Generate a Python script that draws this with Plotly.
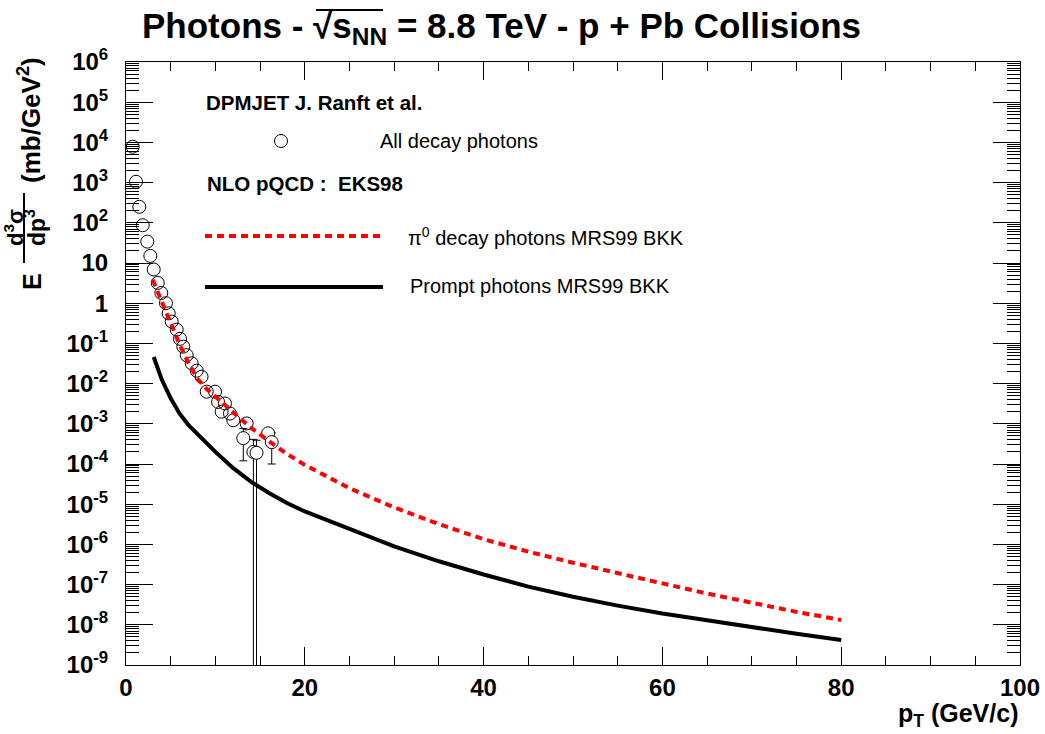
import plotly.graph_objects as go

# ---------------- data ----------------
# DPMJET "All decay photons" (open circles, no visible errors)
dpm_pt = [0.75, 1.12, 1.49, 1.87, 2.38, 2.72, 3.10, 3.55, 3.95, 4.47, 4.78, 5.11,
          5.67, 6.04, 6.41, 6.79, 7.35, 7.91, 8.45, 9.03, 9.96, 10.3, 11.07, 10.7,
          11.63, 12.0, 13.5]
dpm_val = [7800, 1050, 250, 87, 34, 15, 6.9, 3.2, 1.8, 1.0, 0.56, 0.35,
           0.22, 0.13, 0.083, 0.051, 0.032, 0.021, 0.0148, 0.0063, 0.0063, 0.0035, 0.0032, 0.0020,
           0.0018, 0.00123, 0.00102]
# DPMJET points with visible error bars
dpm_err_pt = [13.12, 14.25, 14.6, 15.9, 16.3]
dpm_err_val = [4.4e-4, 2.0e-4, 1.9e-4, 5.8e-4, 3.5e-4]
dpm_err = [3.2e-4, 2.1e-4, 2.0e-4, 1.7e-4, 2.5e-4]

# NLO pQCD EKS98 - pi0 decay photons MRS99 BKK
pi0_pt = [3, 4, 5, 6, 7, 8, 9, 10, 12, 14, 16, 18, 20, 25, 30, 35, 40, 45, 50, 55,
          60, 65, 70, 75, 80]
pi0_val = [3.8, 1.05, 0.30, 0.093, 0.032, 0.0132, 0.0074, 0.0047, 0.0019, 7.9e-4,
           3.7e-4, 1.78e-4, 9.5e-5, 2.5e-5, 8.3e-6, 3.2e-6, 1.35e-6, 6.6e-7, 3.5e-7,
           1.9e-7, 1.07e-7, 6.0e-8, 3.5e-8, 2.1e-8, 1.32e-8]

# NLO pQCD EKS98 - prompt photons MRS99 BKK
prompt_pt = [3.1, 4, 5, 6, 7, 8, 9, 10, 12, 14, 16, 18, 20, 25, 30, 35, 40, 45, 50,
             55, 60, 65, 70, 75, 80]
prompt_val = [0.046, 0.0126, 0.0043, 0.00178, 9.3e-4, 5.6e-4, 3.3e-4, 2.0e-4, 7.9e-5,
              3.6e-5, 1.9e-5, 1.07e-5, 6.6e-6, 2.4e-6, 8.9e-7, 3.8e-7, 1.78e-7, 8.9e-8,
              5.0e-8, 3.0e-8, 1.9e-8, 1.29e-8, 8.7e-9, 6.0e-9, 4.2e-9]

x_tick_vals = [0, 20, 40, 60, 80, 100]
y_tick_exps = list(range(-9, 7))

# ---------------- layout helpers ----------------
W, H = 1045, 734
L, R, T, B = 126, 1020, 62, 665
FONT = "Liberation Sans, Arial, Helvetica, sans-serif"


def px(x):
    return (x - L) / (R - L)


def py(y):
    return (B - y) / (B - T)


def ytick_text(e):
    if e == 0:
        return "1"
    if e == 1:
        return "10"
    return "10<sup>%d</sup>" % e


fig = go.Figure()

# points with error bars (white-filled so bars do not cross the marker)
fig.add_trace(go.Scatter(
    x=dpm_err_pt, y=dpm_err_val, mode="markers",
    marker=dict(symbol="circle", size=13, color="white",
                line=dict(color="black", width=1)),
    error_y=dict(type="data", array=dpm_err, visible=True, color="black",
                 thickness=1, width=4),
    showlegend=False, hoverinfo="skip"))

fig.add_trace(go.Scatter(
    x=dpm_pt, y=dpm_val, mode="markers",
    marker=dict(symbol="circle-open", size=13, color="black",
                line=dict(color="black", width=1)),
    showlegend=False, hoverinfo="skip"))

fig.add_trace(go.Scatter(
    x=pi0_pt, y=pi0_val, mode="lines",
    line=dict(color="#ff0000", width=4, dash="7px,5px"),
    showlegend=False, hoverinfo="skip"))

fig.add_trace(go.Scatter(
    x=prompt_pt, y=prompt_val, mode="lines",
    line=dict(color="black", width=4),
    showlegend=False, hoverinfo="skip"))

fig.update_layout(
    width=W, height=H, autosize=False,
    margin=dict(l=L, r=W - R, t=T, b=H - B, pad=0, autoexpand=False),
    paper_bgcolor="white", plot_bgcolor="white",
    font=dict(family=FONT, color="black"),
    showlegend=False,
)

fig.update_xaxes(
    range=[0, 100], showgrid=False, zeroline=False, automargin=False,
    showline=True, linecolor="black", linewidth=1, mirror="allticks",
    tickmode="array", tickvals=x_tick_vals, ticktext=[str(v) for v in x_tick_vals],
    ticks="inside", ticklen=18, tickwidth=1, tickcolor="black",
    minor=dict(dtick=5, tick0=0, ticks="inside", ticklen=9, tickwidth=1, tickcolor="black"),
    tickfont=dict(size=24, family=FONT, color="black", weight="bold"),
    ticklabelstandoff=1,
)

fig.update_yaxes(
    type="log", range=[-9, 6], showgrid=False, zeroline=False, automargin=False,
    showline=True, linecolor="black", linewidth=1, mirror="allticks",
    tickmode="array", tickvals=[10.0 ** e for e in y_tick_exps],
    ticktext=[ytick_text(e) for e in y_tick_exps],
    ticks="inside", ticklen=27, tickwidth=1, tickcolor="black",
    minor=dict(dtick="D1", ticks="inside", ticklen=13, tickwidth=1, tickcolor="black"),
    tickfont=dict(size=24, family=FONT, color="black", weight="bold"),
    ticklabelstandoff=12,
)

ann = []


def text(x, y, s, size, bold=False, xanchor="left", angle=0):
    ann.append(dict(
        x=px(x), y=py(y), xref="paper", yref="paper", text=s, showarrow=False,
        xanchor=xanchor, yanchor="middle", textangle=angle,
        font=dict(family=FONT, size=size, color="black",
                  weight="bold" if bold else "normal")))


# title
text(501, 28, "Photons - \u221as<sub>NN</sub> = 8.8 TeV - p + Pb Collisions", 35,
     bold=True, xanchor="center")
# x axis title
text(1020, 715, "p<sub>T</sub> (GeV/c)", 25, bold=True, xanchor="right")
# y axis title pieces (rotated)
text(32, 282, "E", 25, bold=True, xanchor="center", angle=-90)
text(14, 228, "d<sup>3</sup>\u03c3", 22, bold=True, xanchor="center", angle=-90)
text(35, 228, "dp<sup>3</sup>", 23, bold=True, xanchor="center", angle=-90)
text(29, 120, "(mb/GeV<sup>2</sup>)", 26, bold=True, xanchor="center", angle=-90)

# legend texts
text(204, 102, "DPMJET J. Ranft et al.", 20.5, bold=True)
text(378, 141, "All decay photons", 20)
text(205, 183, "NLO pQCD :\u00a0\u00a0EKS98", 20.5, bold=True)
text(406, 236, "\u03c0<sup>0</sup> decay photons MRS99 BKK", 20)
text(408, 286, "Prompt photons MRS99 BKK", 20)

fig.update_layout(annotations=ann)

shapes = [
    # overline of the square root in the title
    dict(type="line", xref="paper", yref="paper", x0=px(316), x1=px(383),
         y0=py(10), y1=py(10), line=dict(color="black", width=2)),
    # fraction bar of y title
    dict(type="line", xref="paper", yref="paper", x0=px(24), x1=px(24),
         y0=py(193), y1=py(263), line=dict(color="black", width=2)),
    # legend keys
    dict(type="circle", xref="paper", yref="paper", x0=px(274.5), x1=px(287.5),
         y0=py(147.5), y1=py(134.5), line=dict(color="black", width=1)),
    dict(type="line", xref="paper", yref="paper", x0=px(205), x1=px(383),
         y0=py(236), y1=py(236), line=dict(color="#ff0000", width=4, dash="7px,5px")),
    dict(type="line", xref="paper", yref="paper", x0=px(205), x1=px(383),
         y0=py(287), y1=py(287), line=dict(color="black", width=4)),
]
fig.update_layout(shapes=shapes)

fig.write_html("out.html", config=dict(displayModeBar=False),
               post_script="document.body.style.margin='0';")
